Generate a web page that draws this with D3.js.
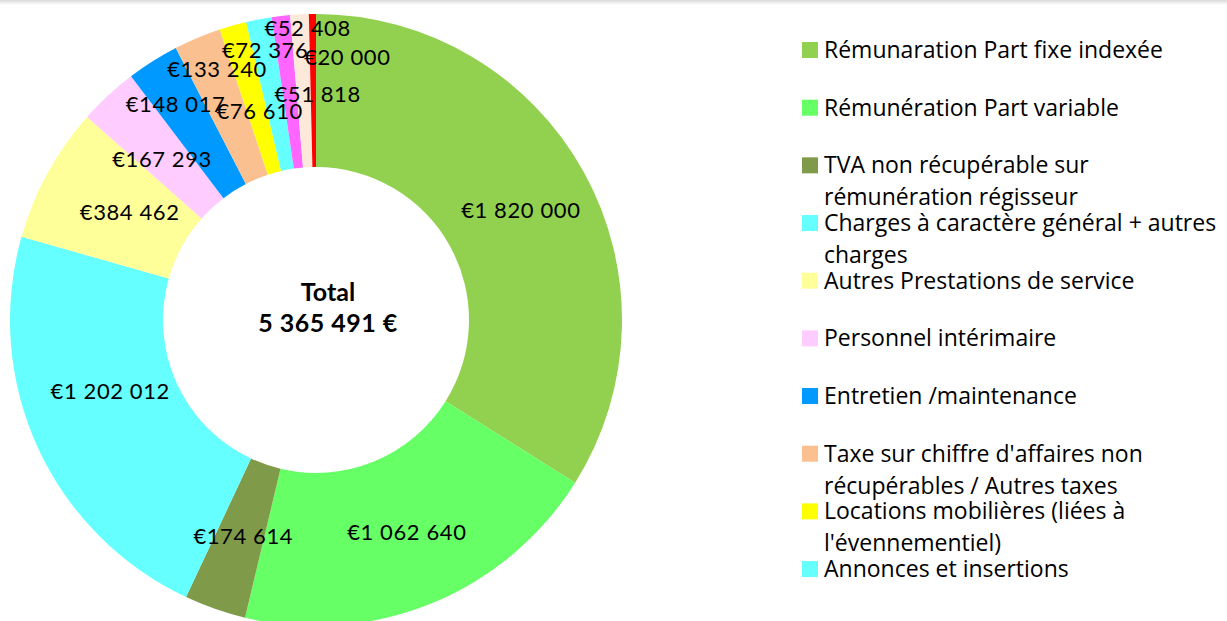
<!DOCTYPE html>
<html>
<head>
<meta charset="utf-8">
<script src="https://cdn.jsdelivr.net/npm/d3@7"></script>
<style>
  html, body { margin: 0; padding: 0; background: #fff; }
  svg { display: block; }
</style>
</head>
<body>
<div id="chart"></div>
<script>
// slices, clockwise from 12 o'clock
const categories = [
    "Rémunaration Part fixe indexée",
    "Rémunération Part variable",
    "TVA non récupérable sur rémunération régisseur",
    "Charges à caractère général + autres charges",
    "Autres Prestations de service",
    "Personnel intérimaire",
    "Entretien /maintenance",
    "Taxe sur chiffre d'affaires non récupérables / Autres taxes",
    "Locations mobilières (liées à l'évennementiel)",
    "Annonces et insertions",
    "", "", ""   // last three entries fall outside the visible legend
];
const values = [1820000, 1062640, 174614, 1202012, 384462, 167293, 148017, 133240, 76610, 72376, 51818, 52408, 20000];
const colors = ["#92d050", "#66ff66", "#7f9a48", "#66ffff", "#ffff99", "#ffccff", "#0099ff",
                "#fac090", "#ffff00", "#66ffff", "#ff66ff", "#fde9d9", "#ff0000"];
const totalLabel = ["Total", "5 365 491 €"];
const legendCount = 10;

// label nudges (px) where labels were pushed apart in the original
const labelNudge = [[4, 1], [4, 0], [3, 0], [3, -24], [15, 2], [2, 8], [-18, -22],
                    [-10, -39], [6, 12], [-8, -44], [28, 2], [4, -63], [34, -33]];

const W = 1227, H = 621;
const cx = 316, cy = 320, rOuter = 306, rInner = 153;

const svg = d3.select("#chart").append("svg")
    .attr("width", W)
    .attr("height", H);

// faint shadow band along the top edge
const grad = svg.append("defs").append("linearGradient")
    .attr("id", "topShade").attr("x1", 0).attr("x2", 0).attr("y1", 0).attr("y2", 1);
grad.append("stop").attr("offset", "0%").attr("stop-color", "#d9d9d9");
grad.append("stop").attr("offset", "100%").attr("stop-color", "#ffffff");
svg.append("rect").attr("x", 0).attr("y", 0).attr("width", W).attr("height", 5)
    .attr("fill", "url(#topShade)");

const data = values.map((v, i) => ({name: categories[i], value: v, color: colors[i], i: i}));

const pie = d3.pie().sort(null).value(d => d.value);
const arc = d3.arc().innerRadius(rInner).outerRadius(rOuter);
const labelArc = d3.arc().innerRadius((rInner + rOuter) / 2).outerRadius((rInner + rOuter) / 2);

const g = svg.append("g").attr("transform", `translate(${cx},${cy})`);
const arcs = pie(data);

g.selectAll("path.slice")
    .data(arcs)
    .enter().append("path")
    .attr("class", "slice")
    .attr("d", arc)
    .attr("fill", d => d.data.color);

const fmt = v => "€" + d3.format(",")(v).replace(/,/g, " ");

g.selectAll("text.val")
    .data(arcs)
    .enter().append("text")
    .attr("class", "val")
    .attr("x", d => labelArc.centroid(d)[0] + labelNudge[d.data.i][0])
    .attr("y", d => labelArc.centroid(d)[1] + labelNudge[d.data.i][1])
    .attr("dy", "0.35em")
    .attr("text-anchor", "middle")
    .style("font-family", "Lato, 'DejaVu Sans', sans-serif")
    .style("font-size", "22px")
    .style("letter-spacing", "0.6px")
    .attr("fill", "#000")
    .text(d => fmt(d.data.value));

// centre total
g.append("text")
    .attr("x", 12).attr("y", -19)
    .attr("text-anchor", "middle")
    .style("font-family", "Lato, sans-serif")
    .style("font-weight", "bold")
    .style("font-size", "25px")
    .text(totalLabel[0]);
g.append("text")
    .attr("x", 12).attr("y", 12)
    .attr("text-anchor", "middle")
    .style("font-family", "Lato, sans-serif")
    .style("font-weight", "bold")
    .style("font-size", "25px")
    .style("letter-spacing", "0.5px")
    .text(totalLabel[1]);

// legend
const legX = 802, legY0 = 42, legStep = 57.67, maxTextW = 400;
const legend = svg.append("g");
data.slice(0, legendCount).forEach((d, i) => {
    const row = legend.append("g").attr("transform", `translate(${legX},${legY0 + i * legStep})`);
    row.append("rect").attr("width", 16).attr("height", 16).attr("fill", d.color);
    const t = row.append("text")
        .attr("x", 22).attr("y", 16)
        .style("font-family", "'Open Sans', sans-serif")
        .style("font-size", "23px")
        .attr("fill", "#000");
    // simple word wrap
    const words = d.name.split(" ");
    let line = [];
    let ts = t.append("tspan").attr("x", 22).attr("dy", 0);
    words.forEach(w => {
        line.push(w);
        ts.text(line.join(" "));
        if (ts.node().getComputedTextLength() > maxTextW && line.length > 1) {
            line.pop();
            ts.text(line.join(" "));
            line = [w];
            ts = t.append("tspan").attr("x", 22).attr("dy", 32).text(w);
        }
    });
});
</script>
</body>
</html>
